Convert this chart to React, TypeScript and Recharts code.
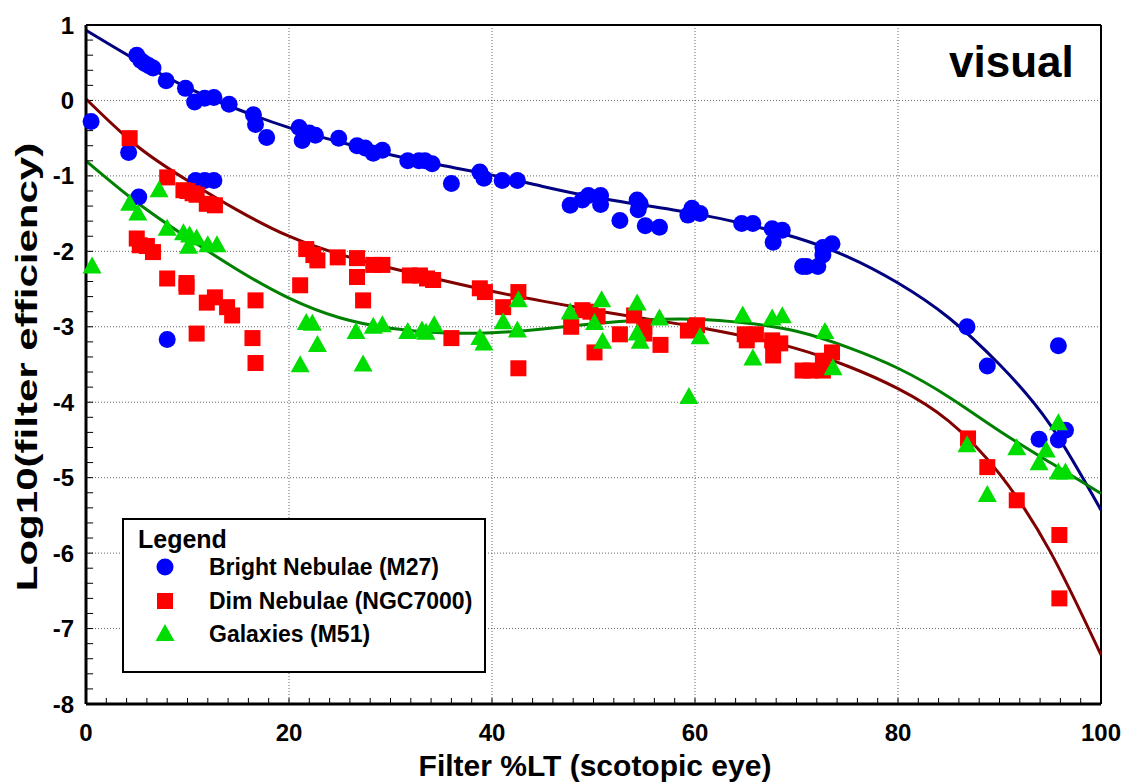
import React from 'react';
import { ComposedChart, Scatter, Line, XAxis, YAxis, CartesianGrid, ReferenceLine } from 'recharts';

// measured points, [filter %LT, log10 efficiency]
const brightNebulae = [
  [0.5, -0.28], [4.2, -0.69], [5.0, 0.6], [5.4, 0.53], [5.8, 0.49], [6.2, 0.46], [6.6, 0.43], [5.2, -1.28],
  [7.9, 0.26], [8.0, -3.17], [9.8, 0.16], [10.7, -0.02], [10.8, -1.06], [11.7, 0.03], [11.7, -1.06], [12.6, -1.06],
  [12.6, 0.04], [14.1, -0.05], [16.5, -0.19], [16.7, -0.32], [17.8, -0.49], [21.0, -0.36], [21.3, -0.53], [22.0, -0.43],
  [22.6, -0.46], [24.9, -0.5], [26.7, -0.6], [27.5, -0.63], [28.3, -0.7], [29.2, -0.66], [31.7, -0.8], [32.8, -0.8],
  [33.4, -0.8], [34.1, -0.84], [36.0, -1.1], [38.8, -0.95], [39.2, -1.03], [41.0, -1.06], [42.5, -1.06], [47.7, -1.39],
  [48.9, -1.32], [49.5, -1.26], [50.7, -1.26], [50.7, -1.38], [52.6, -1.59], [54.3, -1.32], [54.6, -1.37], [54.4, -1.45],
  [55.1, -1.66], [56.5, -1.68], [59.3, -1.52], [59.7, -1.43], [60.5, -1.5], [64.6, -1.63], [65.7, -1.63], [67.6, -1.7],
  [68.6, -1.72], [67.7, -1.88], [70.6, -2.2], [71.0, -2.2], [72.1, -2.2], [72.6, -1.95], [72.6, -2.05], [73.5, -1.9],
  [86.8, -3.0], [88.8, -3.52], [95.8, -3.25], [93.9, -4.49], [95.8, -4.5], [96.5, -4.37],
];

const dimNebulae = [
  [4.3, -0.5], [8.0, -1.02], [9.6, -1.19], [10.0, -1.2], [10.5, -1.23], [10.9, -1.25], [11.9, -1.37], [12.7, -1.39],
  [5.0, -1.83], [5.3, -1.92], [6.0, -1.93], [6.6, -2.01], [8.0, -2.36], [9.9, -2.42], [9.9, -2.47], [10.9, -3.09],
  [11.9, -2.68], [12.7, -2.61], [13.9, -2.74], [14.4, -2.85], [16.4, -3.15], [16.7, -3.48], [16.7, -2.65], [21.1, -2.45],
  [21.7, -1.97], [22.4, -2.05], [22.8, -2.12], [24.8, -2.08], [26.7, -2.09], [26.7, -2.34], [27.3, -2.65], [28.3, -2.18],
  [29.2, -2.18], [31.9, -2.32], [32.9, -2.32], [33.6, -2.36], [34.2, -2.38], [36.0, -3.15], [38.8, -2.49], [39.3, -2.54],
  [41.1, -2.74], [42.6, -2.54], [42.6, -3.55], [47.8, -3.0], [48.9, -2.78], [49.7, -2.8], [50.4, -2.86], [50.1, -3.34],
  [52.6, -3.1], [54.0, -2.85], [55.0, -3.0], [55.0, -3.09], [56.6, -3.24], [59.3, -3.05], [60.2, -2.98], [60.0, -3.0],
  [64.9, -3.1], [65.1, -3.18], [66.0, -3.1], [67.6, -3.18], [67.7, -3.38], [68.4, -3.22], [70.6, -3.58], [71.4, -3.58],
  [72.6, -3.58], [72.6, -3.45], [73.5, -3.34], [86.9, -4.48], [88.8, -4.86], [91.7, -5.3], [95.9, -5.76], [95.9, -6.6],
];

const galaxies = [
  [0.6, -2.2], [4.3, -1.37], [5.1, -1.5], [7.2, -1.19], [8.0, -1.7], [9.6, -1.76], [10.2, -1.79], [10.1, -1.94],
  [10.9, -1.83], [12.0, -1.92], [12.9, -1.92], [21.1, -3.51], [21.7, -2.95], [22.3, -2.96], [22.8, -3.24], [26.6, -3.07],
  [27.3, -3.5], [28.3, -3.0], [29.2, -2.98], [31.7, -3.07], [33.1, -3.05], [33.5, -3.08], [34.3, -2.98], [38.8, -3.15],
  [39.2, -3.22], [41.1, -2.94], [42.6, -2.65], [42.5, -3.05], [47.7, -2.81], [50.1, -2.95], [50.8, -2.65], [50.9, -3.2],
  [54.3, -2.69], [54.3, -3.09], [54.6, -3.2], [56.5, -2.89], [59.4, -3.93], [60.5, -3.14], [64.7, -2.85], [65.7, -3.42],
  [67.6, -2.89], [68.6, -2.86], [72.8, -3.07], [73.6, -3.55], [86.8, -4.57], [88.8, -5.23], [91.7, -4.61], [93.9, -4.81],
  [94.6, -4.64], [95.8, -4.28], [95.8, -4.93], [96.5, -4.93],
];

// trend curves
const fitX = [0, 5, 10, 15, 20, 25, 30, 35, 40, 45, 50, 55, 60, 65, 70, 75, 80, 85, 90, 95, 100];
const brightFit = [0.93, 0.53, 0.17, -0.12, -0.36, -0.55, -0.72, -0.86, -0.99, -1.14, -1.28, -1.39, -1.5, -1.64, -1.82, -2.07, -2.42, -2.88, -3.5, -4.3, -5.43];
const dimFit = [0.02, -0.6, -1.06, -1.46, -1.8, -2.04, -2.22, -2.38, -2.53, -2.66, -2.78, -2.89, -3.0, -3.13, -3.29, -3.52, -3.82, -4.25, -4.95, -5.98, -7.35];
const galaxyFit = [-0.8, -1.35, -1.82, -2.25, -2.62, -2.88, -3.02, -3.08, -3.08, -3.03, -2.96, -2.91, -2.9, -2.95, -3.06, -3.27, -3.55, -3.93, -4.38, -4.8, -5.21];

const xTicks = [0, 20, 40, 60, 80, 100];
const yTicks = [1, 0, -1, -2, -3, -4, -5, -6, -7, -8];
const xMinor = Array.from({ length: 49 }, (_, i) => (i + 1) * 2);
const yMinor = Array.from({ length: 44 }, (_, i) => Math.round((0.8 - i * 0.2) * 10) / 10);

const toPts = (arr: number[][]) => arr.map(([x, y]) => ({ x, y }));
const toFit = (ys: number[]) => fitX.map((x, i) => ({ x, y: ys[i] }));

const FONT = '"Liberation Sans", Arial, sans-serif';

const Dot = (p: any) => <circle cx={p.cx} cy={p.cy} r={8.5} fill="#0000FF" />;
const Sq = (p: any) => <rect x={p.cx - 8} y={p.cy - 8} width={16} height={16} fill="#FF0000" />;
const Tri = (p: any) => (
  <polygon points={`${p.cx},${p.cy - 10} ${p.cx - 9.5},${p.cy + 7} ${p.cx + 9.5},${p.cy + 7}`} fill="#00DD00" />
);

const legendItems = [
  { name: 'Bright Nebulae (M27)', shape: 'circle' },
  { name: 'Dim Nebulae (NGC7000)', shape: 'square' },
  { name: 'Galaxies (M51)', shape: 'triangle' },
];

function LegendMark({ shape }: { shape: string }) {
  return (
    <svg width={22} height={22} style={{ display: 'block' }}>
      {shape === 'circle' && <circle cx={11} cy={11} r={8.5} fill="#0000FF" />}
      {shape === 'square' && <rect x={3} y={3} width={16} height={16} fill="#FF0000" />}
      {shape === 'triangle' && <polygon points="11,1 1.5,18 20.5,18" fill="#00DD00" />}
    </svg>
  );
}

export default function App() {
  return (
    <div style={{ position: 'absolute', left: 0, top: 0, width: 1127, height: 783, background: '#fff', fontFamily: FONT }}>
      <ComposedChart width={1127} height={783} margin={{ top: 25, right: 26, bottom: 19, left: 0 }}>
        <CartesianGrid stroke="#666" strokeDasharray="1 2" />
        <XAxis
          type="number"
          dataKey="x"
          height={60}
          domain={[0, 100]}
          ticks={xTicks}
          tickLine={false}
          tickSize={0}
          tickMargin={20}
          axisLine={{ stroke: '#000', strokeWidth: 3 }}
          tick={{ fill: '#000', fontSize: 24, fontWeight: 'bold', fontFamily: FONT }}
          label={{
            content: () => (
              <text x={595} y={776} textAnchor="middle" fontSize={30} fontWeight="bold" fontFamily={FONT} fill="#000">
                Filter %LT (scotopic eye)
              </text>
            ),
          }}
        />
        <YAxis
          type="number"
          dataKey="y"
          domain={[-8, 1]}
          ticks={yTicks}
          width={86}
          tickLine={false}
          tickSize={0}
          tickMargin={12}
          axisLine={{ stroke: '#000', strokeWidth: 3 }}
          tick={{ fill: '#000', fontSize: 24, fontWeight: 'bold', fontFamily: FONT }}
          label={{
            content: () => (
              <text
                x={0}
                y={0}
                transform="translate(37 367) rotate(-90) scale(1.45 1)"
                textAnchor="middle"
                fontSize={29}
                fontWeight="bold"
                fontFamily={FONT}
                fill="#000"
              >
                Log10(filter efficiency)
              </text>
            ),
          }}
        />
        {xMinor.map((v) => (
          <ReferenceLine key={'xm' + v} segment={[{ x: v, y: -8 }, { x: v, y: -7.92 }]} stroke="#000" strokeWidth={1} />
        ))}
        {yMinor.map((v) => (
          <ReferenceLine key={'ym' + v} segment={[{ x: 0, y: v }, { x: 0.7, y: v }]} stroke="#000" strokeWidth={1} />
        ))}
        <ReferenceLine y={1} stroke="#000" strokeWidth={2} />
        <ReferenceLine x={100} stroke="#000" strokeWidth={2} />
        <Scatter name="Bright Nebulae (M27)" data={toPts(brightNebulae)} dataKey="y" shape={Dot} isAnimationActive={false} />
        <Scatter name="Dim Nebulae (NGC7000)" data={toPts(dimNebulae)} dataKey="y" shape={Sq} isAnimationActive={false} />
        <Scatter name="Galaxies (M51)" data={toPts(galaxies)} dataKey="y" shape={Tri} isAnimationActive={false} />
        <Line data={toFit(brightFit)} dataKey="y" type="natural" stroke="#000080" strokeWidth={3} dot={false} isAnimationActive={false} />
        <Line data={toFit(dimFit)} dataKey="y" type="natural" stroke="#800000" strokeWidth={3} dot={false} isAnimationActive={false} />
        <Line data={toFit(galaxyFit)} dataKey="y" type="natural" stroke="#008000" strokeWidth={3} dot={false} isAnimationActive={false} />
      </ComposedChart>

      <div style={{ position: 'absolute', left: 949, top: 40, fontSize: 44, fontWeight: 'bold', color: '#000', lineHeight: '44px' }}>
        visual
      </div>

      <div
        style={{
          position: 'absolute',
          left: 122,
          top: 518,
          width: 360,
          height: 151,
          border: '2px solid #000',
          background: '#fff',
          boxSizing: 'content-box',
        }}
      >
        <div style={{ position: 'absolute', left: 14, top: 6, fontSize: 25, fontWeight: 'bold', lineHeight: '26px' }}>Legend</div>
        {legendItems.map((it, i) => (
          <div key={it.name} style={{ position: 'absolute', left: 30, top: 34 + i * 33.5, display: 'flex', alignItems: 'center', height: 26 }}>
            <LegendMark shape={it.shape} />
            <span style={{ marginLeft: 33, fontSize: 23, fontWeight: 'bold', lineHeight: '26px' }}>{it.name}</span>
          </div>
        ))}
      </div>
    </div>
  );
}
